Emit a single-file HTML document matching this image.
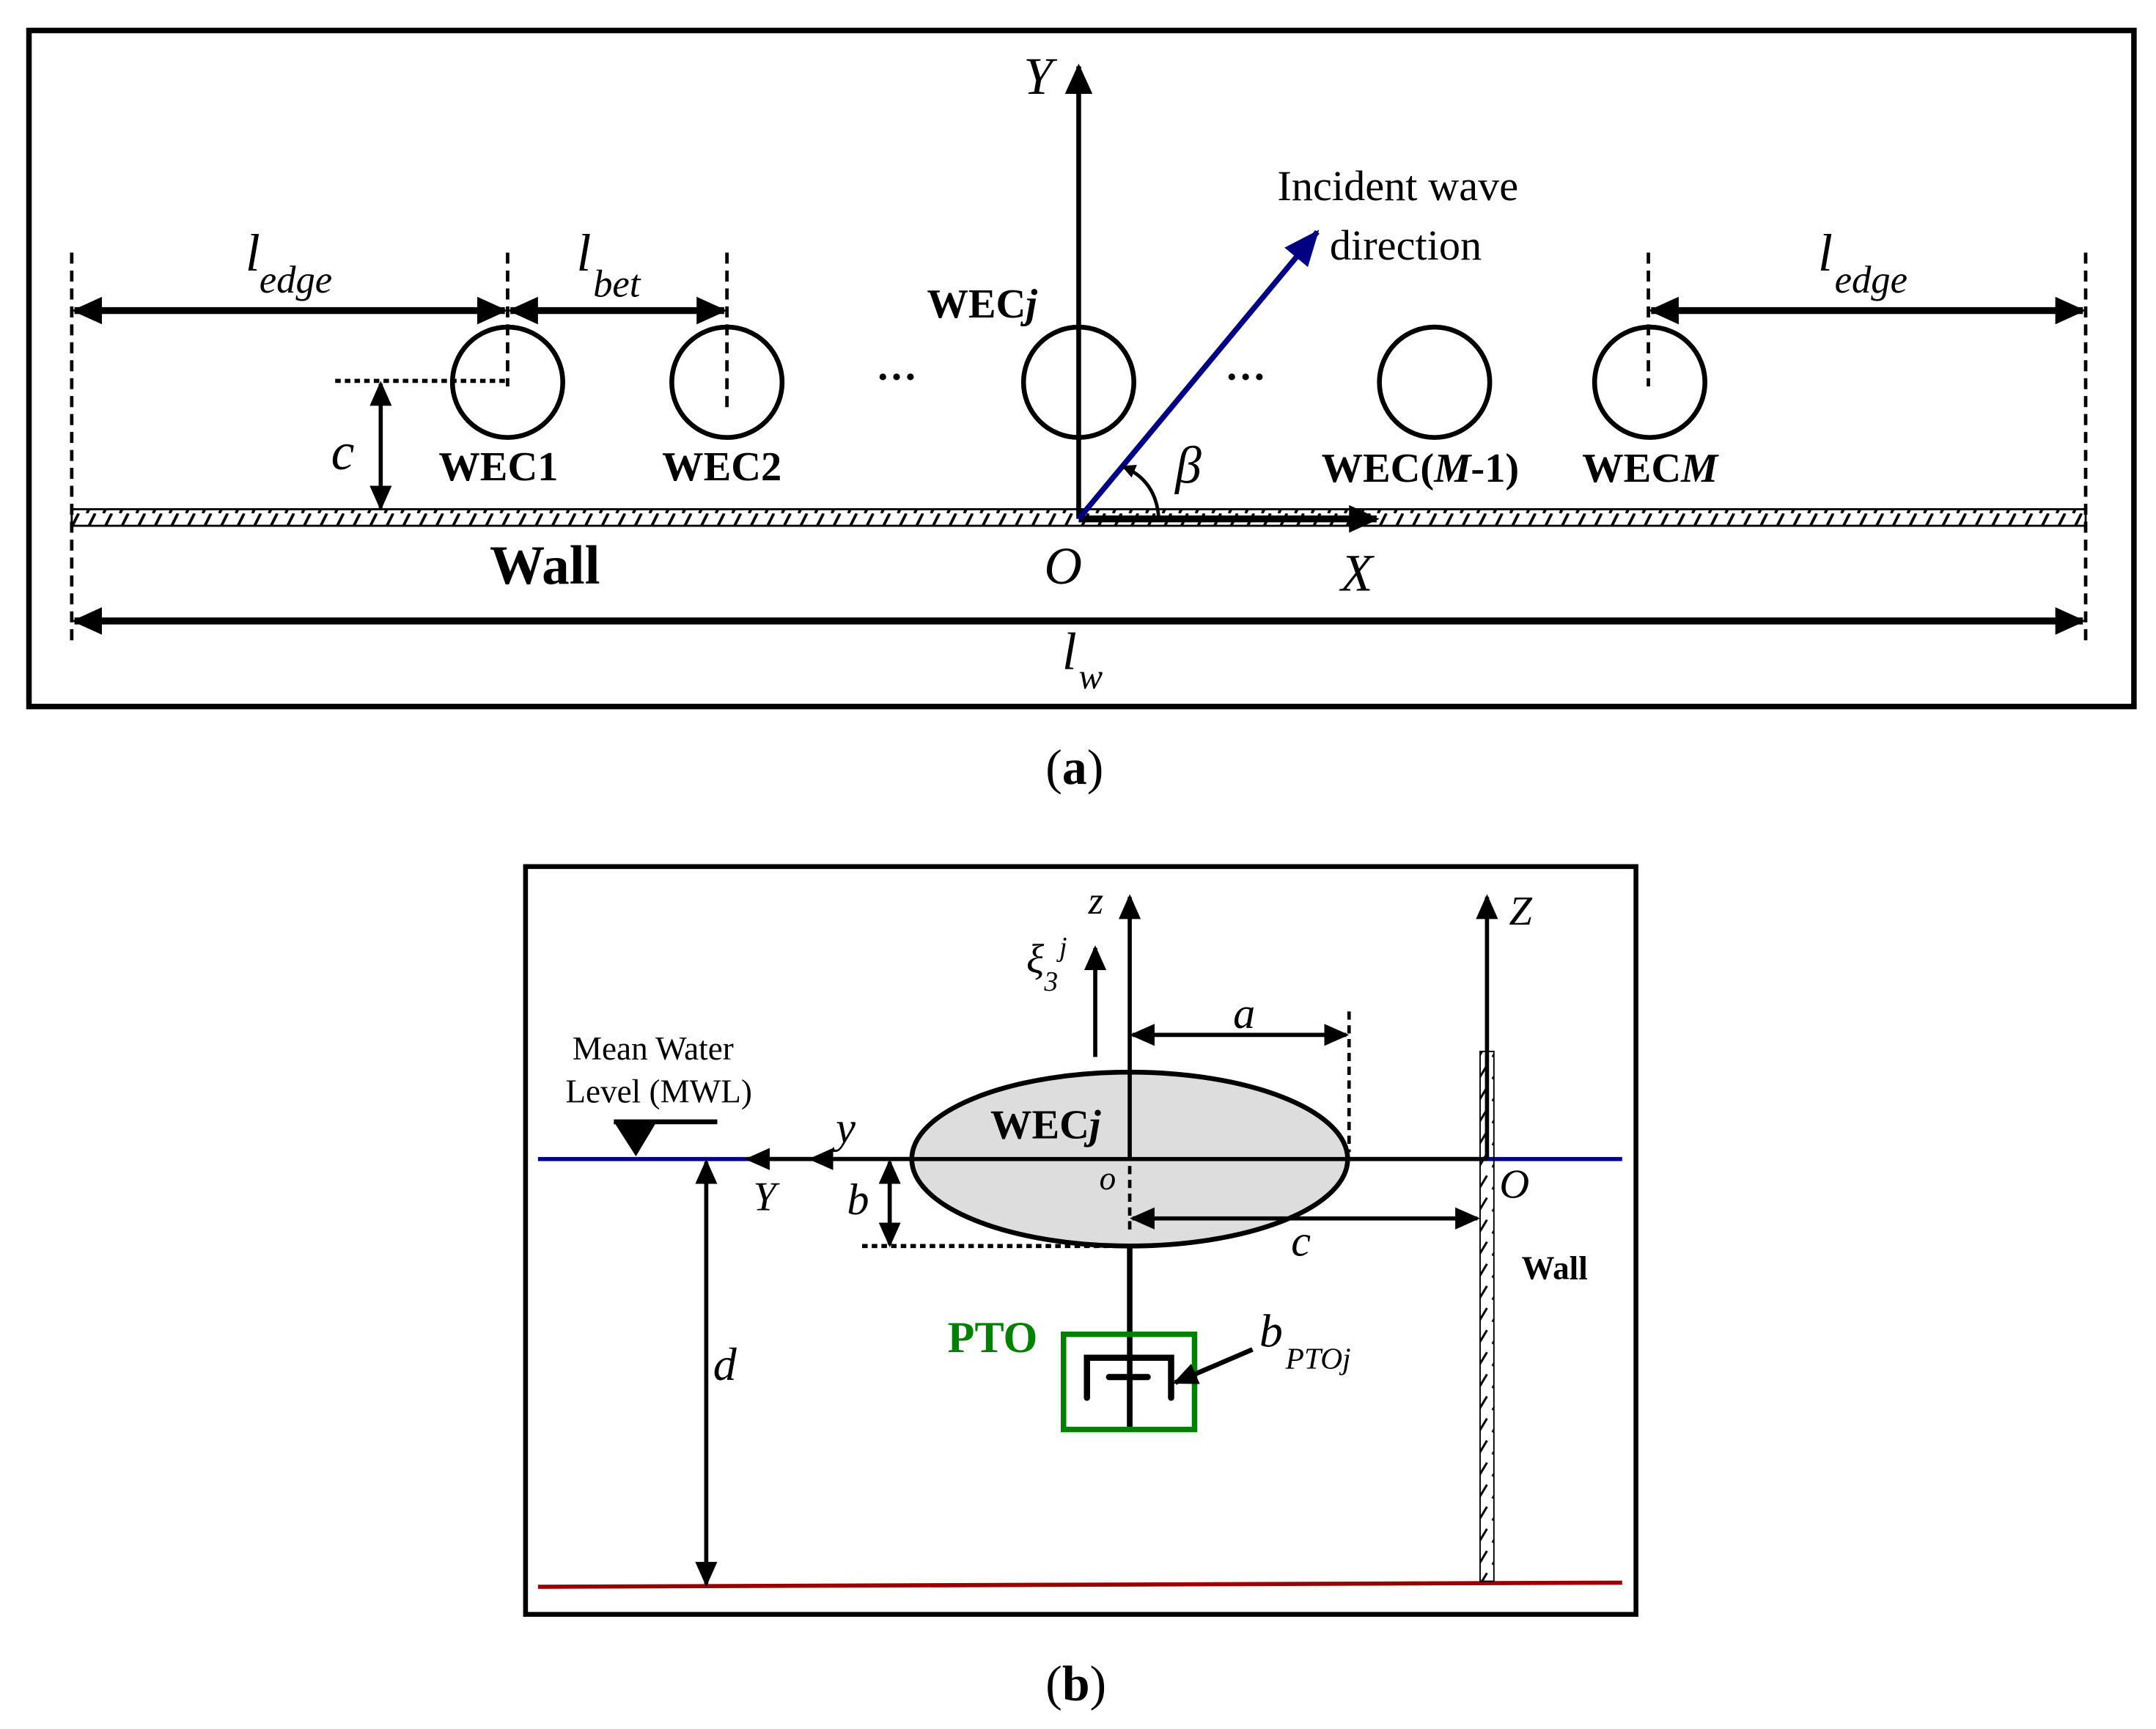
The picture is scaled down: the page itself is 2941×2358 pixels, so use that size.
<!DOCTYPE html>
<html><head><meta charset="utf-8"><style>
html,body{margin:0;padding:0;background:#fff}
svg{display:block}
text{font-family:"Liberation Serif",serif}
</style></head><body>
<svg width="2941" height="2358" viewBox="0 0 1563 1253" xmlns="http://www.w3.org/2000/svg">
<defs>
<marker id="ah" markerWidth="10" markerHeight="10" refX="9" refY="5" orient="auto" markerUnits="userSpaceOnUse" viewBox="0 0 10 10">
<path d="M0,0 L10,5 L0,10 z" fill="#000"/></marker>
<marker id="ahL" markerWidth="22" markerHeight="20" refX="20" refY="10" orient="auto-start-reverse" markerUnits="userSpaceOnUse" viewBox="0 0 22 20">
<path d="M0,0 L22,10 L0,20 z" fill="#000"/></marker>
<marker id="ahB" markerWidth="26" markerHeight="22" refX="24" refY="11" orient="auto" markerUnits="userSpaceOnUse" viewBox="0 0 26 22">
<path d="M0,0 L26,11 L0,22 z" fill="#000080"/></marker>
<marker id="ahM" markerWidth="18" markerHeight="16" refX="16" refY="8" orient="auto-start-reverse" markerUnits="userSpaceOnUse" viewBox="0 0 18 16">
<path d="M0,0 L18,8 L0,16 z" fill="#000"/></marker>
<pattern id="hatch" width="12" height="12" patternUnits="userSpaceOnUse">
<line x1="3" y1="12" x2="9" y2="0" stroke="#000" stroke-width="2"/></pattern>
<pattern id="hatchV" width="10" height="16" patternUnits="userSpaceOnUse">
<line x1="2" y1="14" x2="8" y2="4" stroke="#000" stroke-width="1.6"/></pattern>
</defs>

<!-- Panel a -->
<rect x="21" y="22" width="1526" height="490" fill="none" stroke="#000" stroke-width="4"/>
<rect x="52" y="369" width="1460" height="12" fill="url(#hatch)" stroke="#000" stroke-width="1.5"/>
<g stroke="#000" stroke-width="2.5" stroke-dasharray="8,5" fill="none">
<line x1="52" y1="183" x2="52" y2="468"/>
<line x1="1512" y1="183" x2="1512" y2="468"/>
<line x1="368" y1="183" x2="368" y2="280"/>
<line x1="527" y1="183" x2="527" y2="300"/>
<line x1="1195" y1="183" x2="1195" y2="280"/>
</g>
<line x1="243" y1="276" x2="368" y2="276" stroke="#000" stroke-width="3" stroke-dasharray="4,3"/>
<g stroke="#000" stroke-width="5" fill="none">
<line x1="54" y1="225" x2="366" y2="225" marker-start="url(#ahL)" marker-end="url(#ahL)"/>
<line x1="370" y1="225" x2="525" y2="225" marker-start="url(#ahL)" marker-end="url(#ahL)"/>
<line x1="1197" y1="225" x2="1510" y2="225" marker-start="url(#ahL)" marker-end="url(#ahL)"/>
<line x1="54" y1="450" x2="1510" y2="450" marker-start="url(#ahL)" marker-end="url(#ahL)"/>
</g>
<line x1="276" y1="278" x2="276" y2="368" stroke="#000" stroke-width="3" marker-start="url(#ahM)" marker-end="url(#ahM)"/>
<g stroke="#000" stroke-width="3.5" fill="none">
<circle cx="368" cy="277" r="40"/><circle cx="527" cy="277" r="40"/>
<circle cx="782" cy="277" r="40"/><circle cx="1040" cy="277" r="40"/>
<circle cx="1196" cy="277" r="40"/>
</g>
<line x1="782" y1="376" x2="782" y2="48" stroke="#000" stroke-width="3.5" marker-end="url(#ahL)"/>
<line x1="782" y1="376" x2="998" y2="376" stroke="#000" stroke-width="5" marker-end="url(#ahL)"/>
<line x1="782" y1="376" x2="955" y2="168" stroke="#000080" stroke-width="4" marker-end="url(#ahB)"/>
<path d="M840,375 Q838,348 814,338" stroke="#000" stroke-width="2.5" fill="none" marker-end="url(#ah)"/>
<g font-size="30" font-weight="bold" fill="#000">
<text x="318" y="348">WEC1</text><text x="480" y="348">WEC2</text>
<text x="672" y="230">WEC<tspan font-style="italic">j</tspan></text>
<text x="958" y="349">WEC(<tspan font-style="italic">M</tspan>-1)</text>
<text x="1147" y="349">WEC<tspan font-style="italic">M</tspan></text>
<text x="355" y="423" font-size="40">Wall</text>
<text x="635" y="283" font-size="30">···</text><text x="888" y="283" font-size="30">···</text>
</g>
<g font-style="italic" font-size="38" fill="#000">
<text x="178" y="196">l</text><text x="188" y="212" font-size="28">edge</text>
<text x="418" y="196">l</text><text x="430" y="215" font-size="28">bet</text>
<text x="1318" y="196">l</text><text x="1330" y="212" font-size="28">edge</text>
<text x="240" y="340">c</text>
<text x="742" y="68">Y</text>
<text x="852" y="350">β</text>
<text x="757" y="423">O</text>
<text x="972" y="428">X</text>
<text x="770" y="485">l</text><text x="782" y="499" font-size="26">w</text>
</g>
<text x="926" y="145" font-size="31">Incident wave</text>
<text x="964" y="188" font-size="31">direction</text>
<text x="758" y="568" font-size="36">(<tspan font-weight="bold">a</tspan>)</text>

<!-- Panel b -->
<rect x="381" y="628" width="805" height="542" fill="none" stroke="#000" stroke-width="3.5"/>
<line x1="390" y1="840" x2="1176" y2="840" stroke="#000080" stroke-width="3"/>
<line x1="390" y1="1150" x2="1176" y2="1147" stroke="#990000" stroke-width="3"/>
<rect x="1073" y="762" width="10" height="384" fill="url(#hatchV)" stroke="#000" stroke-width="1"/>
<ellipse cx="819" cy="840" rx="158" ry="63" fill="#dddddd" stroke="#000" stroke-width="3.5"/>
<line x1="1078" y1="840" x2="1078" y2="650" stroke="#000" stroke-width="3" marker-end="url(#ahM)"/>
<line x1="819" y1="840" x2="819" y2="650" stroke="#000" stroke-width="3" marker-end="url(#ahM)"/>
<line x1="1078" y1="840" x2="542" y2="840" stroke="#000" stroke-width="3" marker-end="url(#ahM)"/>
<path d="M604,832 L586,840 L604,848 z" fill="#000"/>
<line x1="794" y1="766" x2="794" y2="687" stroke="#000" stroke-width="3" marker-end="url(#ahM)"/>
<line x1="821" y1="750" x2="976" y2="750" stroke="#000" stroke-width="3" marker-start="url(#ahM)" marker-end="url(#ahM)"/>
<line x1="978" y1="733" x2="978" y2="835" stroke="#000" stroke-width="2.5" stroke-dasharray="6,4"/>
<line x1="819" y1="845" x2="819" y2="892" stroke="#000" stroke-width="2.5" stroke-dasharray="6,4"/>
<line x1="821" y1="883" x2="1071" y2="883" stroke="#000" stroke-width="3" marker-start="url(#ahM)" marker-end="url(#ahM)"/>
<line x1="645" y1="842" x2="645" y2="902" stroke="#000" stroke-width="3" marker-start="url(#ahM)" marker-end="url(#ahM)"/>
<line x1="625" y1="903" x2="815" y2="903" stroke="#000" stroke-width="3" stroke-dasharray="4,3"/>
<line x1="512" y1="842" x2="512" y2="1148" stroke="#000" stroke-width="3" marker-start="url(#ahM)" marker-end="url(#ahM)"/>
<line x1="445" y1="813" x2="520" y2="813" stroke="#000" stroke-width="3.5"/>
<path d="M445,813 L476,813 L461,838 z" fill="#000"/>
<line x1="819" y1="903" x2="819" y2="1034" stroke="#000" stroke-width="4"/>
<rect x="771" y="967" width="95" height="69" fill="none" stroke="#008000" stroke-width="4"/>
<path d="M788,1013 V984 H849 V1013" fill="none" stroke="#000" stroke-width="4.5" stroke-linecap="round"/>
<line x1="804" y1="998" x2="832" y2="998" stroke="#000" stroke-width="4.5" stroke-linecap="round"/>
<line x1="819" y1="998" x2="819" y2="1034" stroke="#000" stroke-width="4"/>
<line x1="908" y1="978" x2="852" y2="1002" stroke="#000" stroke-width="3.5" marker-end="url(#ahM)"/>
<text x="718" y="825" font-size="30" font-weight="bold">WEC<tspan font-style="italic">j</tspan></text>
<text x="687" y="980" font-size="32" font-weight="bold" fill="#008000">PTO</text>
<text x="1103" y="927" font-size="24" font-weight="bold">Wall</text>
<text x="415" y="768" font-size="24">Mean Water</text>
<text x="410" y="799" font-size="24">Level (MWL)</text>
<g font-style="italic" fill="#000">
<text x="789" y="662" font-size="28">z</text>
<text x="1094" y="670" font-size="30">Z</text>
<text x="744" y="705" font-size="30">ξ</text><text x="757" y="718" font-size="20">3</text><text x="768" y="693" font-size="20">j</text>
<text x="894" y="745" font-size="32">a</text>
<text x="606" y="828" font-size="32">y</text>
<text x="546" y="877" font-size="30">Y</text>
<text x="614" y="880" font-size="32">b</text>
<text x="797" y="862" font-size="24">o</text>
<text x="1087" y="868" font-size="30">O</text>
<text x="936" y="910" font-size="32">c</text>
<text x="517" y="1000" font-size="34">d</text>
<text x="913" y="976" font-size="34">b</text><text x="932" y="992" font-size="22">PTOj</text>
</g>
<text x="758" y="1232" font-size="36">(<tspan font-weight="bold">b</tspan>)</text>
</svg>
</body></html>
